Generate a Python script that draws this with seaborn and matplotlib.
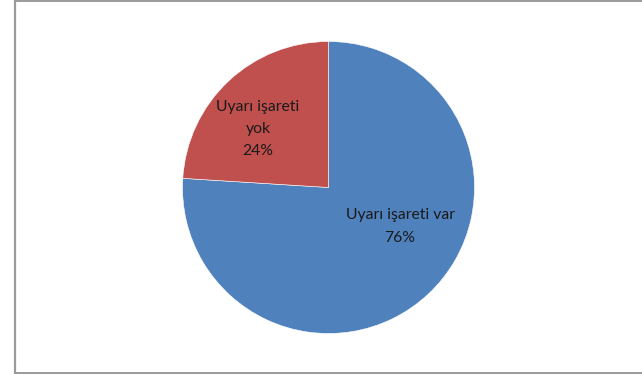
import matplotlib
matplotlib.use("Agg")
import matplotlib.pyplot as plt
import seaborn as sns
from matplotlib.lines import Line2D

categories = ["Uyarı işareti var", "Uyarı işareti\nyok"]
values = [76, 24]
colors = ["#4F81BD", "#C0504D"]

sns.set_theme(style="white")
plt.rcParams['font.family'] = ['Lato', 'DejaVu Sans']

W, H = 642, 374
fig = plt.figure(figsize=(W / 100, H / 100), dpi=100)
fig.patch.set_facecolor("white")

# pie area in pixels
cx, cy, r = 328.5, 374 - 187.5, 146
ax = fig.add_axes([(cx - r) / W, (cy - r) / H, 2 * r / W, 2 * r / H])
palette = sns.color_palette(colors)

wedges, texts = ax.pie(values, colors=palette, startangle=90, counterclock=False,
                       radius=1.0, wedgeprops=dict(linewidth=0.4, edgecolor="white"))
ax.set_xlim(-1, 1)
ax.set_ylim(-1, 1)
ax.set_aspect("equal")
ax.axis("off")

# label placement (relative to pie radius)
label_pos = [(0.49, -0.267), (-0.483, 0.40)]
for (x, y), cat, v in zip(label_pos, categories, values):
    ax.text(x, y, f"{cat}\n{v}%", ha="center", va="center", fontsize=11.3,
            color="#1a1a1a", linespacing=1.75)

# figure border
border_color = "#9a9a9a"
fig.add_artist(Line2D([14.5 / W, 14.5 / W], [0, 1], transform=fig.transFigure,
                      color=border_color, lw=1.6))
fig.add_artist(Line2D([14.5 / W, 1], [1 - 0.5 / H, 1 - 0.5 / H], transform=fig.transFigure,
                      color=border_color, lw=1.4))
fig.add_artist(Line2D([14.5 / W, 1], [1.2 / H, 1.2 / H], transform=fig.transFigure,
                      color=border_color, lw=1.4))

fig.savefig("out.png", dpi=100)
